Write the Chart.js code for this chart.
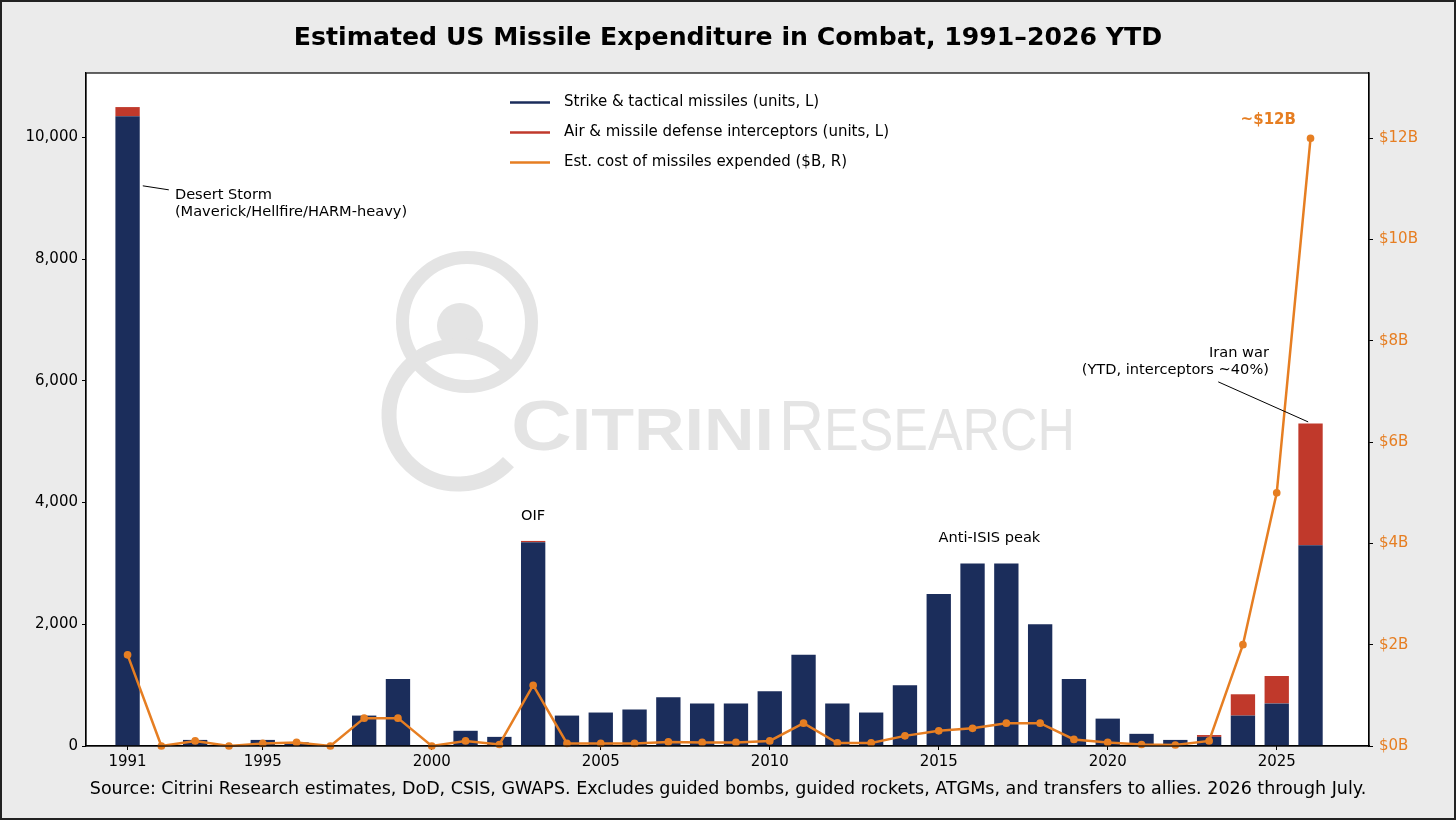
<!DOCTYPE html>
<html>
<head>
<meta charset="utf-8">
<script src="https://cdn.jsdelivr.net/npm/chart.js@4.4.1/dist/chart.umd.min.js"></script>
<style>
  html, body { margin: 0; padding: 0; background: #ebebeb; }
  canvas { display: block; }
</style>
</head>
<body>
<canvas id="chart" width="1456" height="820"></canvas>
<script>
// data
const years = [1991, 1992, 1993, 1994, 1995, 1996, 1997, 1998, 1999, 2000,
  2001, 2002, 2003, 2004, 2005, 2006, 2007, 2008, 2009, 2010,
  2011, 2012, 2013, 2014, 2015, 2016, 2017, 2018, 2019, 2020,
  2021, 2022, 2023, 2024, 2025, 2026]
const strikeUnits = [10350, 0, 100, 0, 100, 60, 0, 500, 1100, 0,
  250, 150, 3350, 500, 550, 600, 800, 700, 700, 900,
  1500, 700, 550, 1000, 2500, 3000, 3000, 2000, 1100, 450,
  200, 100, 150, 500, 700, 3300]
const interceptorUnits = [150, 0, 0, 0, 0, 0, 0, 0, 0, 0,
  0, 0, 20, 0, 0, 0, 0, 0, 0, 0,
  0, 0, 0, 0, 0, 0, 0, 0, 0, 0,
  0, 0, 30, 350, 450, 2000]
const costBillions = [1.8, 0, 0.1, 0, 0.05, 0.07, 0, 0.55, 0.55, 0,
  0.1, 0.03, 1.2, 0.05, 0.05, 0.05, 0.08, 0.07, 0.07, 0.1,
  0.45, 0.06, 0.06, 0.2, 0.3, 0.35, 0.45, 0.45, 0.13, 0.07,
  0.03, 0.02, 0.1, 2.0, 5.0, 12.0]

const xTicks = [1991, 1995, 2000, 2005, 2010, 2015, 2020, 2025]
const leftTicks = [0, 2000, 4000, 6000, 8000, 10000]
const rightTicks = [0, 2, 4, 6, 8, 10, 12]

const NAVY = "#1b2d5b"
const RED = "#c0392b"
const ORANGE = "#e67e22"
const FONT = '"DejaVu Sans", sans-serif'

const title = "Estimated US Missile Expenditure in Combat, 1991\u20132026 YTD"
const source = "Source: Citrini Research estimates, DoD, CSIS, GWAPS. Excludes guided bombs, guided rockets, ATGMs, and transfers to allies. 2026 through July."

const xy = (vals) => vals.map((v, i) => ({ x: years[i], y: v }))

function drawText(ctx, str, x, y, font, color, align) {
  ctx.font = font
  ctx.fillStyle = color
  ctx.textAlign = align || "left"
  ctx.textBaseline = "middle"
  ctx.fillText(str, x, y)
}

function line(ctx, x1, y1, x2, y2, color, w) {
  ctx.beginPath()
  ctx.moveTo(x1, y1)
  ctx.lineTo(x2, y2)
  ctx.strokeStyle = color
  ctx.lineWidth = w
  ctx.stroke()
}

// watermark in the plot background
function drawWatermark(ctx) {
  const c = "#e4e4e4"
  ctx.save()
  ctx.strokeStyle = c
  ctx.fillStyle = c
  ctx.lineCap = "butt"
  ctx.lineWidth = 13
  ctx.beginPath()
  ctx.arc(467, 322, 64.5, 0, Math.PI * 2)
  ctx.stroke()
  ctx.beginPath()
  ctx.arc(460, 326, 23, 0, Math.PI * 2)
  ctx.fill()
  ctx.lineWidth = 15
  ctx.beginPath()
  ctx.arc(458, 415, 69, 43 * Math.PI / 180, 315 * Math.PI / 180)
  ctx.stroke()

  ctx.textBaseline = "alphabetic"
  ctx.textAlign = "left"
  ctx.font = 'bold 71px "Liberation Sans", sans-serif'
  const wC = ctx.measureText("C").width
  ctx.font = 'bold 59px "Liberation Sans", sans-serif'
  const wI = ctx.measureText("ITRINI").width
  ctx.save()
  ctx.translate(511, 450)
  ctx.scale(263 / (wC + wI), 1)
  ctx.font = 'bold 71px "Liberation Sans", sans-serif'
  ctx.fillText("C", 0, 0)
  ctx.font = 'bold 59px "Liberation Sans", sans-serif'
  ctx.fillText("ITRINI", wC, 0)
  ctx.restore()

  ctx.font = '71px "Liberation Sans", sans-serif'
  const wR = ctx.measureText("R").width
  ctx.font = '59px "Liberation Sans", sans-serif'
  const wE = ctx.measureText("ESEARCH").width
  ctx.save()
  ctx.translate(779, 450)
  ctx.scale(296 / (wR + wE), 1)
  ctx.font = '71px "Liberation Sans", sans-serif'
  ctx.fillText("R", 0, 0)
  ctx.font = '59px "Liberation Sans", sans-serif'
  ctx.fillText("ESEARCH", wR, 0)
  ctx.restore()
  ctx.restore()
}

const decor = {
  id: "decor",
  beforeDraw(chart) {
    const { ctx, chartArea: a } = chart
    ctx.save()
    ctx.fillStyle = "#ebebeb"
    ctx.fillRect(0, 0, chart.width, chart.height)
    ctx.fillStyle = "#ffffff"
    ctx.fillRect(a.left, a.top, a.right - a.left, a.bottom - a.top)
    ctx.restore()
  },
  beforeDatasetsDraw(chart) {
    const { ctx, chartArea: a } = chart
    ctx.save()
    ctx.beginPath()
    ctx.rect(a.left, a.top, a.right - a.left, a.bottom - a.top)
    ctx.clip()
    drawWatermark(ctx)
    ctx.restore()
  },
  afterDatasetsDraw(chart) {
    const { ctx, scales } = chart
    const x = scales.x, y = scales.y, y2 = scales.y2
    ctx.save()

    // legend
    const items = chart.data.datasets.map(d => [d.label, d.legendColor])
    items.forEach(([label, color], i) => {
      const ly = 102.5 + i * 30
      line(ctx, 510, ly, 550, ly, color, 2.5)
      drawText(ctx, label, 564, ly, "15px " + FONT, "#000")
    })

    // annotations
    const note = "14.6px " + FONT
    line(ctx, x.getPixelForValue(1991.45), y.getPixelForValue(9206),
      x.getPixelForValue(1992.22), y.getPixelForValue(9140), "#000", 1)
    drawText(ctx, "Desert Storm", x.getPixelForValue(1992.4), y.getPixelForValue(9058), note, "#000")
    drawText(ctx, "(Maverick/Hellfire/HARM-heavy)", x.getPixelForValue(1992.4), y.getPixelForValue(8780), note, "#000")
    drawText(ctx, "OIF", x.getPixelForValue(2003), y.getPixelForValue(3780), note, "#000", "center")
    drawText(ctx, "Anti-ISIS peak", x.getPixelForValue(2016.5), y.getPixelForValue(3420), note, "#000", "center")
    drawText(ctx, "Iran war", x.getPixelForValue(2024.77), y.getPixelForValue(6460), note, "#000", "right")
    drawText(ctx, "(YTD, interceptors ~40%)", x.getPixelForValue(2024.77), y.getPixelForValue(6181), note, "#000", "right")
    line(ctx, x.getPixelForValue(2023.27), y.getPixelForValue(5984),
      x.getPixelForValue(2025.93), y.getPixelForValue(5326), "#000", 1)
    drawText(ctx, "~$12B", x.getPixelForValue(2024.75), y2.getPixelForValue(12.35), "bold 15px " + FONT, ORANGE, "center")
    ctx.restore()
  },
  afterDraw(chart) {
    const { ctx, chartArea: a } = chart
    ctx.save()
    ctx.strokeStyle = "#000"
    ctx.lineWidth = 1.2
    ctx.strokeRect(a.left, a.top, a.right - a.left, a.bottom - a.top)
    drawText(ctx, title, chart.width / 2, 38, "bold 25.2px " + FONT, "#000", "center")
    drawText(ctx, source, chart.width / 2, 789, "17.5px " + FONT, "#000", "center")
    ctx.strokeStyle = "#222"
    ctx.lineWidth = 2
    ctx.strokeRect(1, 1, chart.width - 2, chart.height - 2)
    ctx.restore()
  }
}

const axisGrid = { drawOnChartArea: false, drawTicks: true, tickLength: 4, tickColor: "#000", tickWidth: 1, offset: false }
const axisBorder = { display: true, color: "#000", width: 1.2 }

new Chart(document.getElementById("chart"), {
  data: {
    datasets: [
      { type: "bar", label: "Strike & tactical missiles (units, L)", data: xy(strikeUnits),
        backgroundColor: NAVY, legendColor: NAVY, stack: "units", yAxisID: "y", order: 2,
        categoryPercentage: 1, barPercentage: 0.72 },
      { type: "bar", label: "Air & missile defense interceptors (units, L)", data: xy(interceptorUnits),
        backgroundColor: RED, legendColor: RED, stack: "units", yAxisID: "y", order: 2,
        categoryPercentage: 1, barPercentage: 0.72 },
      { type: "line", label: "Est. cost of missiles expended ($B, R)", data: xy(costBillions),
        borderColor: ORANGE, backgroundColor: ORANGE, legendColor: ORANGE, yAxisID: "y2", order: 1,
        borderWidth: 2.5, pointRadius: 2.6, pointHoverRadius: 2.6, tension: 0, clip: false }
    ]
  },
  options: {
    responsive: false,
    animation: false,
    devicePixelRatio: 1,
    layout: { padding: { top: 73, left: 0, right: 0, bottom: 0 } },
    plugins: { legend: { display: false }, tooltip: { enabled: false } },
    scales: {
      x: {
        type: "linear", min: 1989.77, max: 2027.73, offset: false,
        grid: axisGrid, border: axisBorder,
        afterBuildTicks: (s) => { s.ticks = xTicks.map(v => ({ value: v })) },
        afterFit: (s) => { s.height = 74 },
        ticks: { color: "#000", font: { family: FONT, size: 15 }, padding: 3, maxRotation: 0,
          callback: (v) => String(v) }
      },
      y: {
        position: "left", stacked: true, min: 0, max: 11060,
        grid: axisGrid, border: axisBorder,
        afterBuildTicks: (s) => { s.ticks = leftTicks.map(v => ({ value: v })) },
        afterFit: (s) => { s.width = 86 },
        ticks: { color: "#000", font: { family: FONT, size: 15 }, padding: 4,
          callback: (v) => v.toLocaleString("en-US") }
      },
      y2: {
        position: "right", min: 0, max: 13.29,
        grid: axisGrid, border: axisBorder,
        afterBuildTicks: (s) => { s.ticks = rightTicks.map(v => ({ value: v })) },
        afterFit: (s) => { s.width = 87 },
        ticks: { color: ORANGE, font: { family: FONT, size: 15 }, padding: 6,
          callback: (v) => "$" + v + "B" }
      }
    }
  },
  plugins: [decor]
})
</script>
</body>
</html>
